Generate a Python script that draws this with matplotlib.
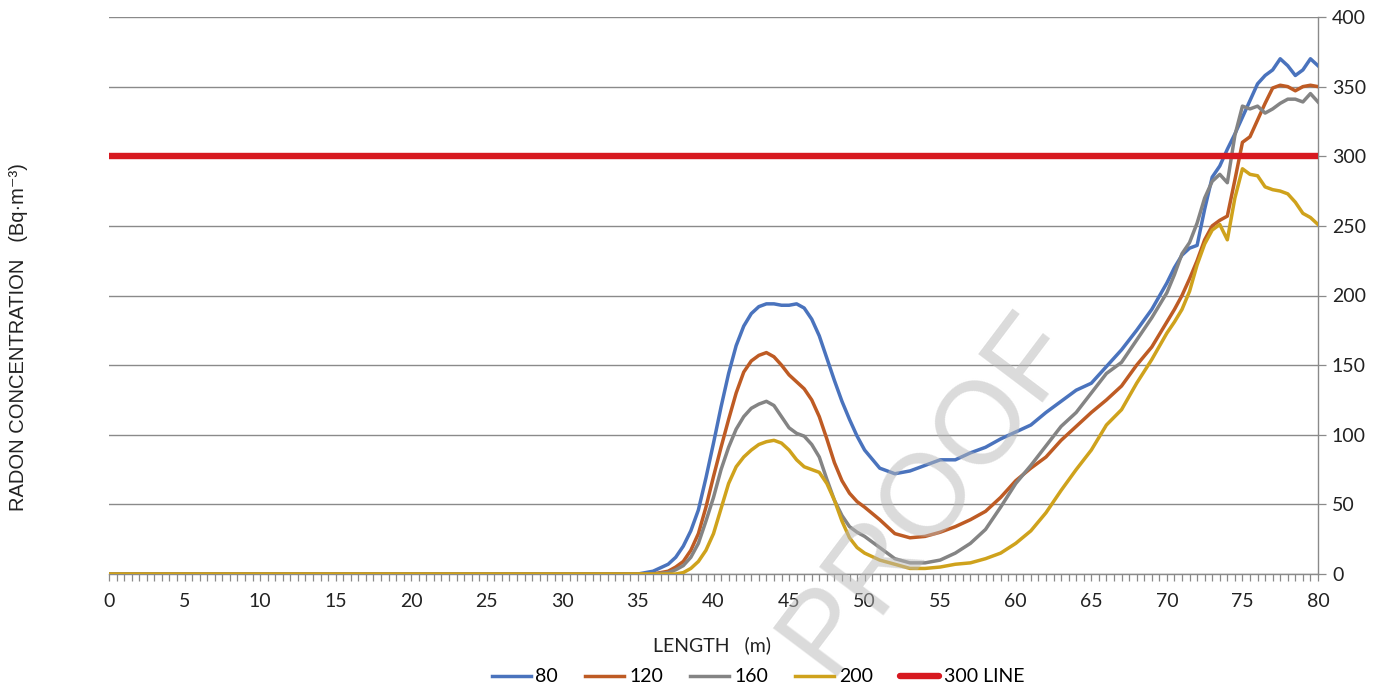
import matplotlib
matplotlib.use("Agg")
import matplotlib.pyplot as plt
from matplotlib.ticker import MultipleLocator

# ---------------- data ----------------
length_m = [0,
            35, 36, 37, 37.5, 38, 38.5, 39, 39.5, 40, 40.5, 41, 41.5, 42, 42.5,
            43, 43.5, 44, 44.5, 45, 45.5, 46, 46.5, 47, 47.5, 48, 48.5, 49, 49.5,
            50, 51, 52, 53, 54, 55, 56, 57, 58, 59, 60,
            61, 62, 63, 64, 65, 66, 67, 68, 69, 70,
            70.5, 71, 71.5, 72, 72.5, 73, 73.5, 74, 74.5, 75,
            75.5, 76, 76.5, 77, 77.5, 78, 78.5, 79, 79.5, 80]

s80 = [0,
       0, 2, 7, 12, 20, 31, 46, 69, 94, 120, 144, 164, 178, 187,
       192, 194, 194, 193, 193, 194, 191, 183, 171, 155, 139, 124, 111, 99,
       89, 76, 72, 74, 78, 82, 82, 87, 91, 97, 102,
       107, 116, 124, 132, 137, 149, 161, 175, 190, 209,
       220, 229, 234, 236, 262, 285, 293, 305, 316, 328,
       340, 352, 358, 362, 370, 365, 358, 362, 370, 365]

s120 = [0,
        0, 0, 2, 5, 9, 17, 29, 48, 70, 91, 111, 130, 145, 153,
        157, 159, 156, 150, 143, 138, 133, 125, 113, 97, 80, 67, 58, 52,
        48, 39, 29, 26, 27, 30, 34, 39, 45, 55, 67,
        76, 84, 96, 106, 116, 125, 135, 150, 163, 181,
        190, 200, 212, 225, 240, 250, 254, 257, 283, 310,
        314, 326, 338, 349, 351, 350, 347, 350, 351, 350]

s160 = [0,
        0, 0, 1, 3, 6, 12, 22, 38, 55, 75, 91, 104, 113, 119,
        122, 124, 121, 113, 105, 101, 99, 93, 84, 68, 53, 42, 34, 30,
        27, 19, 11, 8, 8, 10, 15, 22, 32, 48, 65,
        78, 92, 106, 116, 130, 144, 152, 168, 184, 202,
        215, 230, 238, 252, 270, 282, 287, 281, 315, 336,
        334, 336, 331, 334, 338, 341, 341, 339, 345, 339]

s200 = [0,
        0, 0, 0, 0, 1, 4, 9, 17, 29, 47, 65, 77, 84, 89,
        93, 95, 96, 94, 89, 82, 77, 75, 73, 65, 53, 38, 26, 19,
        15, 10, 7, 4, 4, 5, 7, 8, 11, 15, 22,
        31, 44, 60, 75, 89, 107, 118, 137, 154, 173,
        181, 190, 203, 222, 237, 247, 251, 240, 270, 291,
        287, 286, 278, 276, 275, 273, 267, 259, 256, 251]

line300_x = [0, 80]
line300_y = [300, 300]

series_labels = ["80", "120", "160", "200", "300 LINE"]
x_ticks = [0, 5, 10, 15, 20, 25, 30, 35, 40, 45, 50, 55, 60, 65, 70, 75, 80]
y_ticks = [0, 50, 100, 150, 200, 250, 300, 350, 400]

# ---------------- figure ----------------
W, H = 1390, 688
fig = plt.figure(figsize=(W / 100, H / 100), dpi=100)
ax = fig.add_axes([109 / W, 1 - 574 / H, (1318 - 109) / W, (574 - 17) / H])

tick_font = "Lato"
grid_col = "#8a8a8a"

ax.set_xlim(0, 80)
ax.set_ylim(0, 400)

ax.yaxis.tick_right()
ax.set_yticks(y_ticks)
ax.set_xticks(x_ticks)
ax.xaxis.set_minor_locator(MultipleLocator(0.5))
ax.grid(axis="y", color=grid_col, linewidth=1.0, zorder=0)
ax.set_axisbelow(True)

for side in ["top", "left"]:
    ax.spines[side].set_visible(False)
for side in ["right", "bottom"]:
    ax.spines[side].set_color(grid_col)
    ax.spines[side].set_linewidth(1.0)

ax.tick_params(axis="x", which="both", direction="out", length=5, width=0.9,
               color=grid_col, labelsize=14, pad=9)
ax.tick_params(axis="y", which="major", direction="out", length=6, width=0.9,
               color=grid_col, labelsize=14, pad=4)
for lab in ax.get_xticklabels() + ax.get_yticklabels():
    lab.set_fontfamily(tick_font)
    lab.set_color("#222222")

lw = 2.5
ax.plot(length_m, s80, color="#4a73bd", lw=lw, label=series_labels[0], zorder=3,
        solid_joinstyle="round")
ax.plot(length_m, s120, color="#be5b24", lw=lw, label=series_labels[1], zorder=3,
        solid_joinstyle="round")
ax.plot(length_m, s160, color="#848484", lw=lw, label=series_labels[2], zorder=3,
        solid_joinstyle="round")
ax.plot(length_m, s200, color="#cfa21c", lw=lw, label=series_labels[3], zorder=3,
        solid_joinstyle="round")
ax.plot(line300_x, line300_y, color="#d71920", lw=4.6, label=series_labels[4], zorder=4,
        solid_capstyle="round")

# axis titles
fig.text(712 / W, 1 - 645 / H, "LENGTH   (m)", ha="center", va="center",
         fontsize=14, family=[tick_font, "DejaVu Sans"], color="#222222")
fig.text(19 / W, 1 - 337 / H, "RADON CONCENTRATION   (Bq·m⁻³)", ha="center",
         va="center", rotation=90, fontsize=14.5,
         family=["Liberation Sans", "DejaVu Sans"], color="#222222")

# legend
leg = fig.legend(loc="center", bbox_to_anchor=(758 / W, 1 - 677 / H), ncol=5,
                 frameon=False, prop={"family": tick_font, "size": 14},
                 handlelength=2.0, handletextpad=0.25, columnspacing=1.4,
                 borderaxespad=0)

# watermark
fig.text(928 / W, 1 - 492 / H, "PROOF", ha="center", va="center", rotation=53,
         fontsize=84, family="Liberation Sans", color="#b8b8b8", alpha=0.5,
         zorder=10)

fig.savefig("out.png", dpi=100)
